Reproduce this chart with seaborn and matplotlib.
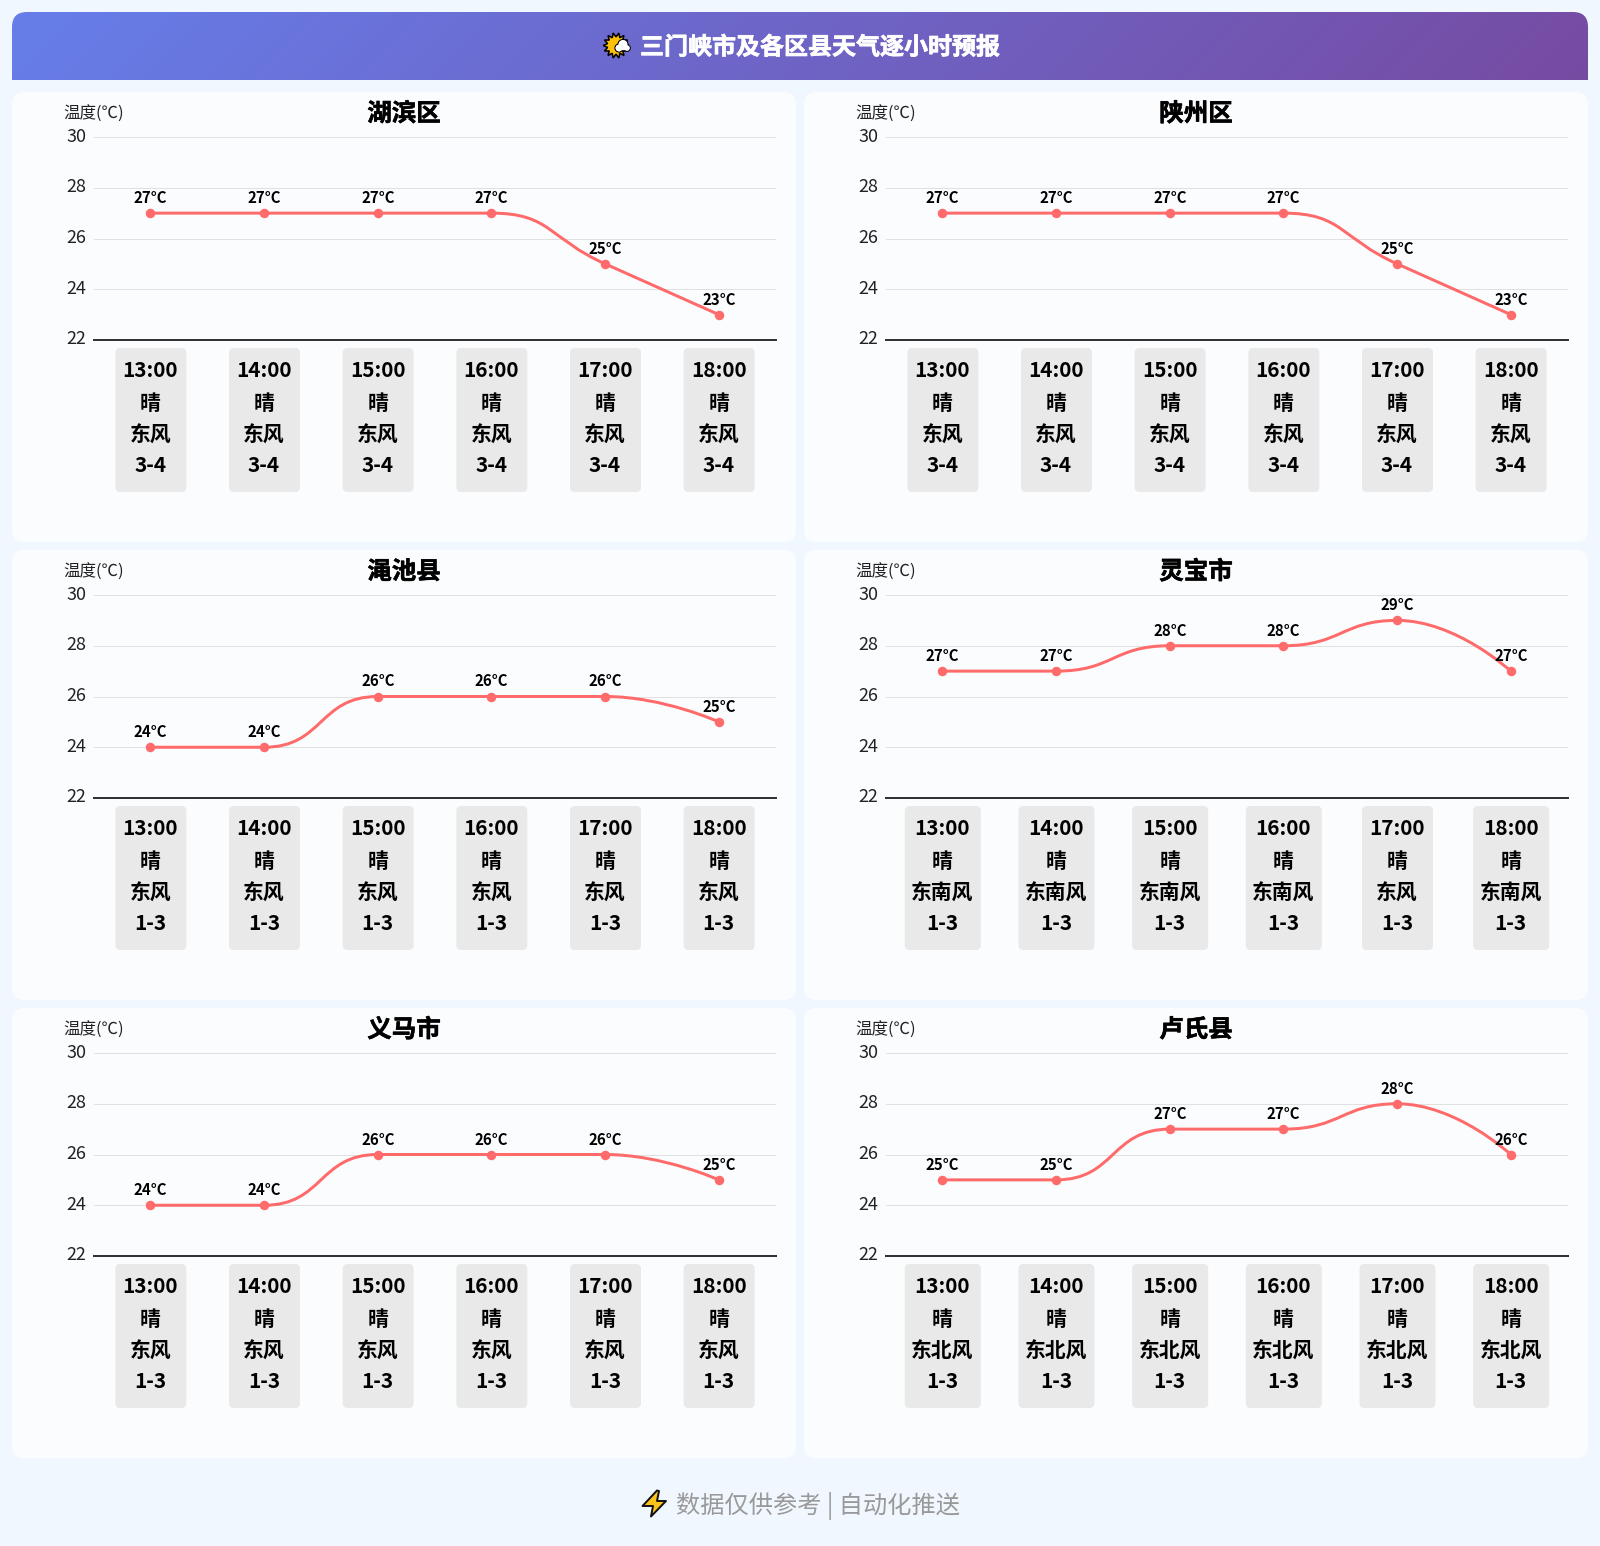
import numpy as np
import pandas as pd
import seaborn as sns
import matplotlib.pyplot as plt
import matplotlib.patheffects as pe
from matplotlib.patches import FancyBboxPatch, PathPatch, Polygon, Circle
from matplotlib.path import Path
from matplotlib.transforms import ScaledTranslation

hours = ['13:00', '14:00', '15:00', '16:00', '17:00', '18:00']
weather = ['晴', '晴', '晴', '晴', '晴', '晴']

hubin_temp = [27, 27, 27, 27, 25, 23]
shanzhou_temp = [27, 27, 27, 27, 25, 23]
mianchi_temp = [24, 24, 26, 26, 26, 25]
lingbao_temp = [27, 27, 28, 28, 29, 27]
yima_temp = [24, 24, 26, 26, 26, 25]
lushi_temp = [25, 25, 27, 27, 28, 26]

hubin_wind = ['东风', '东风', '东风', '东风', '东风', '东风']
shanzhou_wind = ['东风', '东风', '东风', '东风', '东风', '东风']
mianchi_wind = ['东风', '东风', '东风', '东风', '东风', '东风']
lingbao_wind = ['东南风', '东南风', '东南风', '东南风', '东风', '东南风']
yima_wind = ['东风', '东风', '东风', '东风', '东风', '东风']
lushi_wind = ['东北风', '东北风', '东北风', '东北风', '东北风', '东北风']

hubin_level = ['3-4'] * 6
shanzhou_level = ['3-4'] * 6
mianchi_level = ['1-3'] * 6
lingbao_level = ['1-3'] * 6
yima_level = ['1-3'] * 6
lushi_level = ['1-3'] * 6

districts = ['湖滨区', '陕州区', '渑池县', '灵宝市', '义马市', '卢氏县']
temps = [hubin_temp, shanzhou_temp, mianchi_temp, lingbao_temp, yima_temp, lushi_temp]
winds = [hubin_wind, shanzhou_wind, mianchi_wind, lingbao_wind, yima_wind, lushi_wind]
levels = [hubin_level, shanzhou_level, mianchi_level, lingbao_level, yima_level, lushi_level]
y_ticks = [22, 24, 26, 28, 30]

W, H = 1600, 1546
BAND = 682 / 6
UNIT = 50.75 / 2
LINE = '#ff6b6b'


def pt(px):
    return px * 72 / 100


def smooth_path(values, smooth=0.5):
    # same control point rule as a smoothed echarts line, worked out in pixels
    xs = np.arange(len(values)) * BAND
    ys = np.array(values, dtype=float) * UNIT
    verts = [(xs[0], ys[0])]
    codes = [Path.MOVETO]
    cp0 = (xs[0], ys[0])
    for i in range(1, len(xs)):
        x, y = xs[i], ys[i]
        px, py = xs[i - 1], ys[i - 1]
        if i == len(xs) - 1:
            cp1 = (x, y)
            next_cp = (x, y)
        else:
            nx, ny = xs[i + 1], ys[i + 1]
            len_prev = np.hypot(x - px, y - py)
            len_next = np.hypot(nx - x, ny - y)
            ratio = len_next / (len_next + len_prev)
            ncx = np.clip(x + (nx - px) * smooth * ratio, min(nx, x), max(nx, x))
            ncy = np.clip(y + (ny - py) * smooth * ratio, min(ny, y), max(ny, y))
            cx = np.clip(x - (ncx - x) * len_prev / len_next, min(px, x), max(px, x))
            cy = np.clip(y - (ncy - y) * len_prev / len_next, min(py, y), max(py, y))
            cp1 = (cx, cy)
            next_cp = (x + (x - cx) * len_next / len_prev, y + (y - cy) * len_next / len_prev)
        verts += [cp0, cp1, (x, y)]
        codes += [Path.CURVE4, Path.CURVE4, Path.CURVE4]
        cp0 = next_cp
    return Path(np.array(verts) / [BAND, UNIT], codes)


sns.set_theme(style='white')
plt.rcParams['font.family'] = ['Noto Sans CJK SC', 'DejaVu Sans']

fig = plt.figure(figsize=(W / 100, H / 100), dpi=100, facecolor='#f0f7ff')

# page layer, measured in pixels from the top left
bg = fig.add_axes([0, 0, 1, 1], zorder=0)
bg.set_xlim(0, W)
bg.set_ylim(H, 0)
bg.axis('off')

# header gradient
gx, gy = np.meshgrid(np.arange(12, 1588) + 0.5, np.arange(12, 80) + 0.5)
gt = ((gx - 800) + (gy - 46)) * 0.7071 / ((1576 + 68) * 0.7071) + 0.5
c0 = np.array([0x66, 0x7e, 0xea]) / 255
c1 = np.array([0x76, 0x4b, 0xa2]) / 255
grad = c0 + gt[..., None] * (c1 - c0)
img = bg.imshow(grad, extent=(12, 1588, 80, 12), aspect='auto', zorder=1)
r = 15
head_clip = Path(
    [(12, 80), (12, 12 + r), (12, 12), (12 + r, 12), (1588 - r, 12), (1588, 12), (1588, 12 + r), (1588, 80), (12, 80)],
    [Path.MOVETO, Path.LINETO, Path.CURVE3, Path.CURVE3, Path.LINETO, Path.CURVE3, Path.CURVE3, Path.LINETO, Path.CLOSEPOLY],
)
img.set_clip_path(PathPatch(head_clip, transform=bg.transData))
bg.set_xlim(0, W)
bg.set_ylim(H, 0)

head = bg.text(820, 47.5, '三门峡市及各区县天气逐小时预报', color='white', fontsize=pt(24), fontweight='bold',
               ha='center', va='center', zorder=3)
head.set_path_effects([pe.withStroke(linewidth=0.5, foreground='white')])

# sun behind cloud, stands in for the emoji
n = 14
ang = np.arange(2 * n) * np.pi / n
rad = np.where(np.arange(2 * n) % 2 == 0, 12.8, 8.6)
bg.add_patch(Polygon(np.c_[616 + rad * np.cos(ang), 45.5 + rad * np.sin(ang)], fc='#ffc107', ec='black', lw=1.1, zorder=3))
for cx, cy, cr in [(619, 48, 4.0), (623, 44.5, 5.0), (627, 48, 3.2)]:
    bg.add_patch(Circle((cx, cy), cr, fc='white', ec='black', lw=0.9, zorder=4))
for cx, cy, cr in [(619, 48, 3.4), (623, 44.5, 4.4), (627, 48, 2.7)]:
    bg.add_patch(Circle((cx, cy), cr, fc='white', ec='none', zorder=5))
bg.add_patch(FancyBboxPatch((618, 47), 9, 3, boxstyle='round,pad=0.1', fc='white', ec='none', zorder=5))

# footer
bolt = [(657, 1490.5), (642.5, 1506), (653, 1506), (651, 1516.5), (666, 1501), (657, 1501), (659, 1491)]
bg.add_patch(Polygon(bolt, fc='#fcc21b', ec='#111111', lw=1.4, joinstyle='round', zorder=3))
bg.text(818.5, 1506.5, '数据仅供参考 | 自动化推送', color='#999999', fontsize=pt(24.2), ha='center', va='center', zorder=3)

for idx, name in enumerate(districts):
    ox = 792 * (idx % 2)
    oy = 458 * (idx // 2)

    # card with faint shadow
    for grow, alpha in [(5, 0.012), (3, 0.016), (1, 0.02)]:
        bg.add_patch(FancyBboxPatch((24 + ox - grow, 104 + oy - grow + 1), 760 + 2 * grow, 426 + 2 * grow,
                                    boxstyle='round,pad=0,rounding_size=0', mutation_scale=1, fc='#1a4a9a',
                                    ec='none', alpha=alpha, zorder=1, linewidth=0))
    bg.add_patch(FancyBboxPatch((24 + ox, 104 + oy), 760, 426, boxstyle='round,pad=12,rounding_size=12',
                                fc='#fbfcfe', ec='none', zorder=2))

    title = bg.text(404 + ox, 114 + oy, name, color='black', fontsize=pt(24.5), fontweight='bold',
                    ha='center', va='center', zorder=3)
    title.set_path_effects([pe.withStroke(linewidth=0.4, foreground='black')])
    bg.text(94 + ox, 114.5 + oy, '温度(℃)', color='#222222', fontsize=pt(16.5), ha='center', va='center', zorder=3)

    # chart
    left = 94 + ox
    top = 137 + oy
    ax = fig.add_axes([left / W, 1 - (top + 203) / H, 682 / W, 203 / H], zorder=2)
    ax.patch.set_alpha(0)
    df = pd.DataFrame({'pos': np.arange(len(hours)), 'temp': temps[idx]})
    ax.add_patch(PathPatch(smooth_path(temps[idx]), fc='none', ec=LINE, lw=pt(3), capstyle='round', zorder=3, clip_on=False))
    sns.scatterplot(data=df, x='pos', y='temp', ax=ax, color=LINE, s=pt(9.5) ** 2, linewidth=0, zorder=4, clip_on=False)
    ax.set_xlim(-0.497, 5.503)
    ax.set_ylim(22, 30)
    ax.set_xticks([])
    ax.set_yticks(y_ticks)
    ax.set_xlabel('')
    ax.set_ylabel('')
    ax.tick_params(axis='y', length=0, pad=pt(7.5), labelsize=pt(18), labelcolor='#222222')
    nudge = ScaledTranslation(0, 0.5 / 100, fig.dpi_scale_trans)
    for lab in ax.get_yticklabels():
        lab.set_verticalalignment('center')
        lab.set_transform(lab.get_transform() + nudge)
    ax.grid(axis='y', color='#e0e0e0', lw=pt(1))
    ax.set_axisbelow(True)
    sns.despine(ax=ax, left=True, top=True, right=True)
    ax.spines['bottom'].set_color('#333333')
    ax.spines['bottom'].set_linewidth(pt(2))
    ax.spines['bottom'].set_zorder(2)
    for i, t in enumerate(temps[idx]):
        ax.annotate(f'{t}°C', (i, t), xytext=(0, pt(15)), textcoords='offset points', ha='center', va='center',
                    color='black', fontsize=pt(15), fontweight='bold', zorder=5, annotation_clip=False)

    # hour cards under the axis
    for i, hour in enumerate(hours):
        cx = left + BAND * (i + 0.5)
        box_w = 76 if len(winds[idx][i]) > 2 else 71
        bg.add_patch(FancyBboxPatch((cx - box_w / 2 + 5, 348 + oy + 5), box_w - 10, 134,
                                    boxstyle='round,pad=5,rounding_size=5', fc='#e9e9e9', ec='none', zorder=3))
        rows = [hour, weather[i], winds[idx][i], levels[idx][i]]
        for row, y in zip(rows, [370.5, 403.5, 435, 466]):
            bg.text(cx - 0.5, y + oy, row, color='black', fontsize=pt(20.8), fontweight='bold', ha='center', va='center', zorder=4)

fig.savefig('out.png', dpi=100, facecolor=fig.get_facecolor())
plt.close(fig)
